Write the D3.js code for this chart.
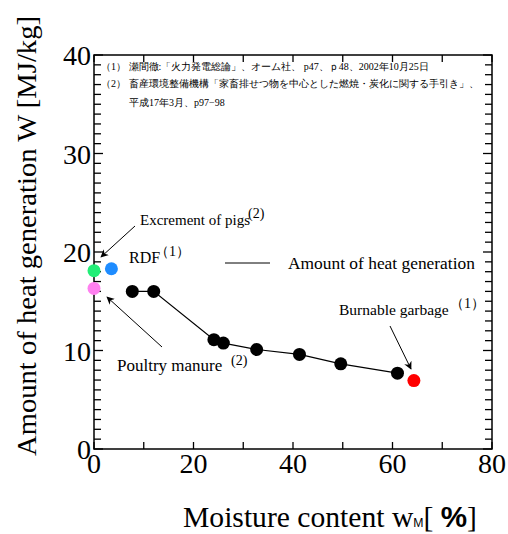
<!DOCTYPE html>
<html>
<head>
<meta charset="utf-8">
<script src="https://cdn.jsdelivr.net/npm/d3@7"></script>
<style>
  body { margin: 0; background: #fff; }
  text { font-family: "Liberation Serif", "Times New Roman", serif; }
</style>
</head>
<body>
<script>
// heat generation vs moisture (black series)
var moisture = [7.7, 12.0, 24.1, 26.0, 32.7, 41.3, 49.6, 61.0];
var heat = [16.0, 16.0, 11.1, 10.75, 10.1, 9.6, 8.65, 7.7];

// single reference points
var refNames = ["Excrement of pigs", "RDF", "Poultry manure", "Burnable garbage"];
var refX = [0, 3.5, 0, 64.3];
var refY = [18.1, 18.3, 16.3, 6.95];
var refColors = ["#22ee77", "#1e8cff", "#ff80f0", "#ff0000"];

var xTicks = [0, 20, 40, 60, 80];
var yTicks = [0, 10, 20, 30, 40];

var notes = [
  "（1） 瀬間徹:「火力発電総論」、オーム社、 p47、ｐ48、2002年10月25日",
  "（2） 畜産環境整備機構「家畜排せつ物を中心とした燃焼・炭化に関する手引き」、",
  "平成17年3月、p97−98"
];

var W = 508, H = 534;
var svg = d3.select("body").append("svg")
    .attr("width", W)
    .attr("height", H);

var x = d3.scaleLinear().domain([0, 80]).range([94, 492]);
var y = d3.scaleLinear().domain([0, 40]).range([449, 55]);

// arrow head
svg.append("defs").append("marker")
    .attr("id", "arr")
    .attr("viewBox", "0 0 10 10")
    .attr("refX", 9).attr("refY", 5)
    .attr("markerWidth", 8).attr("markerHeight", 8)
    .attr("markerUnits", "userSpaceOnUse")
    .attr("orient", "auto")
  .append("path")
    .attr("d", "M0,0 L10,5 L0,10 L3,5 Z")
    .attr("fill", "#000");

// frame
svg.append("rect")
    .attr("x", x(0)).attr("y", y(40))
    .attr("width", x(80) - x(0)).attr("height", y(0) - y(40))
    .attr("fill", "none").attr("stroke", "#000").attr("stroke-width", 1.5);

// inward ticks on all four sides
var minorY = d3.range(0, 41, 1);
var tickX = d3.range(0, 81, 10);
function tlen(d) { return d % 10 === 0 ? 9 : 7; }
var tk = svg.append("g").attr("stroke", "#000").attr("stroke-width", 1.3);
tk.selectAll(".tl").data(minorY).enter().append("line").attr("class", "tl")
    .attr("x1", x(0)).attr("x2", function(d){ return x(0) + tlen(d); })
    .attr("y1", function(d){ return y(d); }).attr("y2", function(d){ return y(d); });
tk.selectAll(".tr").data(minorY).enter().append("line").attr("class", "tr")
    .attr("x1", x(80)).attr("x2", function(d){ return x(80) - tlen(d); })
    .attr("y1", function(d){ return y(d); }).attr("y2", function(d){ return y(d); });
tk.selectAll(".tb").data(tickX).enter().append("line").attr("class", "tb")
    .attr("x1", function(d){ return x(d); }).attr("x2", function(d){ return x(d); })
    .attr("y1", y(0)).attr("y2", y(0) - 7);
tk.selectAll(".tt").data(tickX).enter().append("line").attr("class", "tt")
    .attr("x1", function(d){ return x(d); }).attr("x2", function(d){ return x(d); })
    .attr("y1", y(40)).attr("y2", y(40) + 7);

// tick labels
svg.append("g").selectAll("text")
    .data(xTicks).enter().append("text")
    .attr("x", function(d){ return x(d); })
    .attr("y", y(0) + 24)
    .attr("text-anchor", "middle")
    .attr("font-size", 28)
    .text(function(d){ return d; });
svg.append("g").selectAll("text")
    .data(yTicks).enter().append("text")
    .attr("x", x(0) - 3)
    .attr("y", function(d){ return y(d) + 10; })
    .attr("text-anchor", "end")
    .attr("font-size", 28)
    .text(function(d){ return d; });

// axis titles
svg.append("text")
    .attr("transform", "translate(36," + 236 + ") rotate(-90)")
    .attr("text-anchor", "middle")
    .attr("font-size", 28)
    .attr("textLength", 440)
    .attr("lengthAdjust", "spacingAndGlyphs")
    .text("Amount of heat generation W [MJ/kg]");

var xt = svg.append("text")
    .attr("x", 183).attr("y", 527)
    .attr("font-size", 29)
    .attr("textLength", 294)
    .attr("lengthAdjust", "spacingAndGlyphs");
xt.append("tspan").text("Moisture content w");
xt.append("tspan").attr("font-size", 12).attr("font-family", "Liberation Sans, Arial, sans-serif").text("M");
xt.append("tspan").text("[ ");
xt.append("tspan").attr("font-family", "Liberation Sans, Arial, sans-serif").attr("font-weight", "bold").text("%");
xt.append("tspan").text("]");

// reference notes
svg.append("g").selectAll("text")
    .data(notes).enter().append("text")
    .attr("x", function(d, i){ return i === 2 ? 129 : 101; })
    .attr("y", function(d, i){ return [70, 87, 106][i]; })
    .attr("font-family", "Noto Sans CJK JP, sans-serif")
    .attr("font-size", 10)
    .text(function(d){ return d; });

// series line + points
var line = d3.line()
    .x(function(d, i){ return x(moisture[i]); })
    .y(function(d){ return y(d); });
svg.append("path")
    .attr("d", line(heat))
    .attr("fill", "none").attr("stroke", "#000").attr("stroke-width", 1.2);
svg.append("g").selectAll("circle")
    .data(heat).enter().append("circle")
    .attr("cx", function(d, i){ return x(moisture[i]); })
    .attr("cy", function(d){ return y(d); })
    .attr("r", 6.5)
    .attr("fill", "#000");

svg.append("g").selectAll("circle")
    .data(refNames).enter().append("circle")
    .attr("cx", function(d, i){ return x(refX[i]); })
    .attr("cy", function(d, i){ return y(refY[i]); })
    .attr("r", 6.5)
    .attr("fill", function(d, i){ return refColors[i]; });

// legend
svg.append("line")
    .attr("x1", 225).attr("x2", 270).attr("y1", 263).attr("y2", 263)
    .attr("stroke", "#000").attr("stroke-width", 1);
svg.append("text")
    .attr("x", 288).attr("y", 269)
    .attr("font-size", 17.4)
    .text("Amount of heat generation");

// labels with superscripts
function label(tx, ty, name, fs, sup, sx, sy, supFont) {
  svg.append("text").attr("x", tx).attr("y", ty).attr("font-size", fs).text(name);
  svg.append("text").attr("x", sx).attr("y", sy)
      .attr("font-family", supFont)
      .attr("font-size", 14).text(sup);
}
var sans = "Liberation Sans, Arial, sans-serif";
var cjk = "Noto Sans CJK JP, sans-serif";
label(140, 225, refNames[0], 15, "(2)", 248, 218, sans);
label(129, 263, refNames[1], 16, "（1）", 155, 256, cjk);
label(117, 371, refNames[2], 17, "(2)", 231, 365, sans);
label(339, 315, refNames[3], 15.5, "（1）", 450, 308, cjk);

// arrows
function arrow(x1, y1, x2, y2) {
  svg.append("line")
      .attr("x1", x1).attr("y1", y1).attr("x2", x2).attr("y2", y2)
      .attr("stroke", "#000").attr("stroke-width", 1)
      .attr("marker-end", "url(#arr)");
}
arrow(135, 226, 101, 257);
arrow(162, 347, 107, 297);
arrow(390, 326, 411, 369);
</script>
</body>
</html>
